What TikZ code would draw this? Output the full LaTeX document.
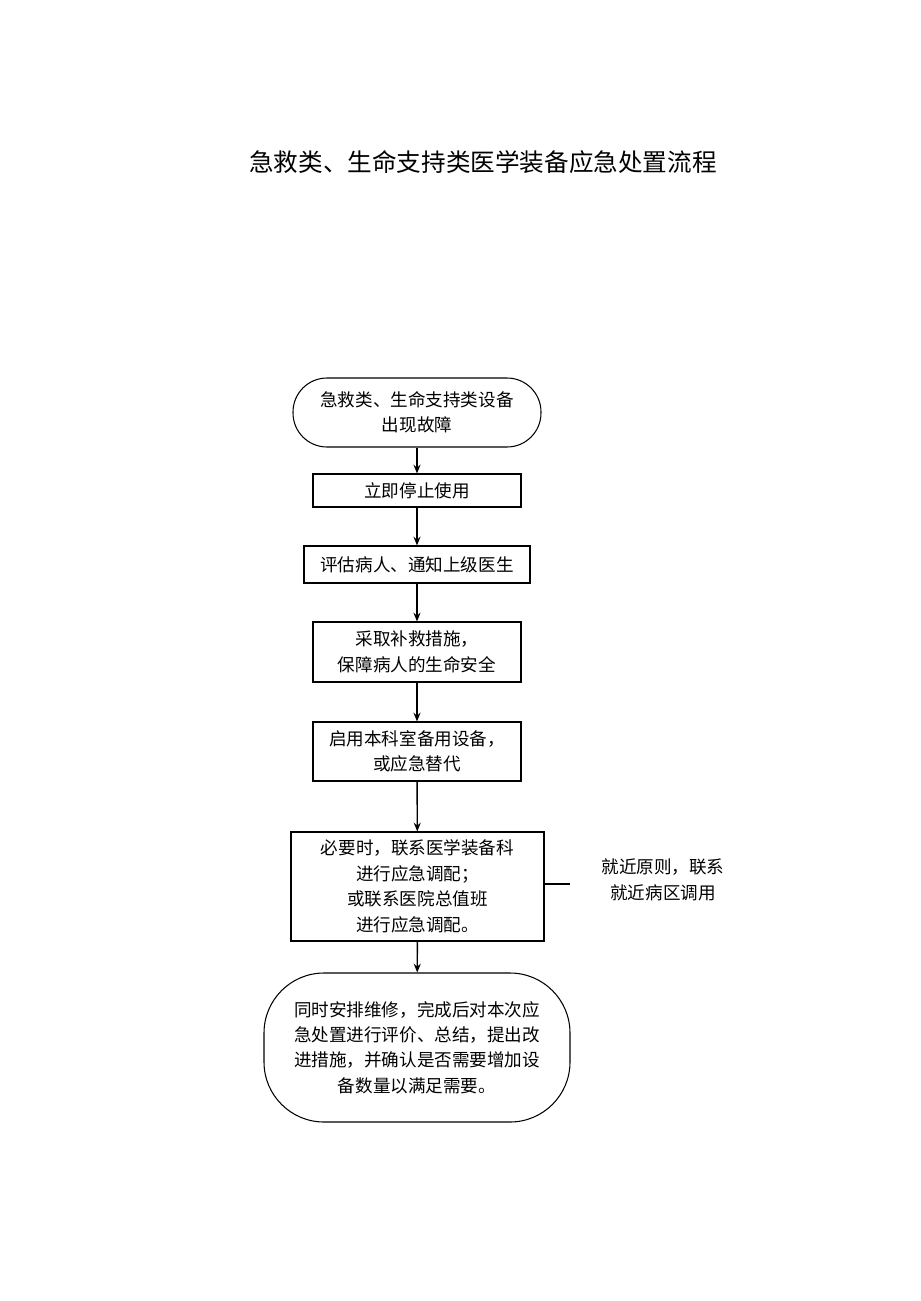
\documentclass[tikz,border=0pt]{standalone}
\usepackage{fontspec}
\setmainfont{Noto Sans CJK SC}
\usetikzlibrary{arrows.meta}
\begin{document}
\begin{tikzpicture}[x=0.02cm,y=-0.02cm,
 box/.style={draw,line width=0.6pt,align=center,font=\fontsize{10}{14.5}\selectfont,inner sep=0pt},
 arr/.style={-{Stealth[length=5pt,width=4pt]},line width=0.8pt},
 lbl/.style={align=center,font=\fontsize{10}{14.5}\selectfont}]
\useasboundingbox (0,0) rectangle (920,1301);
\node[font=\fontsize{14}{16}\selectfont] (title) at (483,162) {急救类、生命支持类医学装备应急处置流程};
\node[box,minimum width=248*0.02cm,minimum height=69*0.02cm,rounded corners=34*0.02cm] (n1) at (417,412.5) {急救类、生命支持类设备\\出现故障};
\node[box,minimum width=208*0.02cm,minimum height=33*0.02cm] (n2) at (417,490.5) {立即停止使用};
\node[box,minimum width=226*0.02cm,minimum height=37*0.02cm] (n3) at (417,564.5) {评估病人、通知上级医生};
\node[box,minimum width=208*0.02cm,minimum height=60*0.02cm] (n4) at (417,652) {采取补救措施，\\保障病人的生命安全};
\node[box,minimum width=208*0.02cm,minimum height=59*0.02cm] (n5) at (417,751.5) {启用本科室备用设备，\\或应急替代};
\node[box,minimum width=253*0.02cm,minimum height=109*0.02cm] (n6) at (417.5,886.5) {必要时，联系医学装备科\\进行应急调配；\\或联系医院总值班\\进行应急调配。};
\node[box,minimum width=306*0.02cm,minimum height=149*0.02cm,rounded corners=60*0.02cm] (n7) at (417,1047.5) {同时安排维修，完成后对本次应\\急处置进行评价、总结，提出改\\进措施，并确认是否需要增加设\\备数量以满足需要。};
\node[lbl] (side) at (663,880) {就近原则，联系\\就近病区调用};
\coordinate (sideend) at (570,884);
\draw[line width=0.6pt] (n6.east |- sideend) -- (sideend);
\draw[arr] (n1) -- (n2);
\draw[arr] (n2) -- (n3);
\draw[arr] (n3) -- (n4);
\draw[arr] (n4) -- (n5);
\draw[arr] (n5) -- (n6);
\draw[arr] (n6) -- (n7);
\end{tikzpicture}
\end{document}
